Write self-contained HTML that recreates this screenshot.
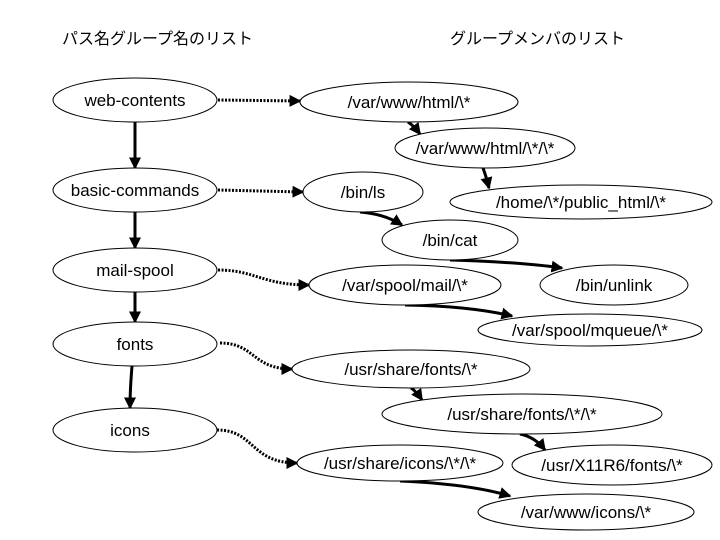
<!DOCTYPE html>
<html><head><meta charset="utf-8"><style>
html,body{margin:0;padding:0;background:#fff}
svg{display:block}
text{font-family:"Liberation Sans","Noto Sans CJK JP",sans-serif;font-size:17px;fill:#000}
text.h{font-size:16px}
.e{fill:#fff;stroke:#000;stroke-width:1}
.s{fill:none;stroke:#000;stroke-width:3}
.d{fill:none;stroke:#000;stroke-width:3;stroke-dasharray:2 1.5}
</style></head><body>
<svg width="720" height="540" viewBox="0 0 720 540">
<defs><marker id="a" markerWidth="4" markerHeight="4" refX="3.5" refY="2" orient="auto" markerUnits="strokeWidth"><path d="M0,0 L4,2 L0,4 z" fill="#000"/></marker></defs>
<text class="h" x="62" y="44">パス名グループ名のリスト</text>
<text class="h" x="450" y="44">グループメンバのリスト</text>

<g class="s" marker-end="url(#a)">
<path d="M135,122 L135,168"/>
<path d="M135,212 L135,248"/>
<path d="M135,292 L135,322"/>
<path d="M132,366 Q130,390 130,408"/>
<path d="M408,122 Q414,126 420,134"/>
<path d="M483,168 Q486,176 489,188"/>
<path d="M360,212 Q385,214 402,225"/>
<path d="M450,260 Q520,262 562,268"/>
<path d="M405,305 Q470,306 512,316"/>
<path d="M411,388 Q416,391 422,400"/>
<path d="M520,434 Q535,437 545,450"/>
<path d="M400,481 Q470,484 510,496"/>
</g>
<g class="d" marker-end="url(#a)">
<path d="M218,100 L300,101"/>
<path d="M218,190 L303,192"/>
<path d="M218,270 C255,270 262,285 309,285"/>
<path d="M220,343 C255,343 252,369 292,369"/>
<path d="M217,430 C255,430 250,463 297,463"/>
</g>

<ellipse class="e" cx="135" cy="100" rx="82" ry="22"/>
<ellipse class="e" cx="135" cy="190" rx="82" ry="22"/>
<ellipse class="e" cx="135" cy="270" rx="82" ry="22"/>
<ellipse class="e" cx="135" cy="344" rx="82" ry="22"/>
<ellipse class="e" cx="135" cy="430" rx="82" ry="22"/>
<text x="135" y="106" text-anchor="middle">web-contents</text>
<text x="135" y="196" text-anchor="middle">basic-commands</text>
<text x="135" y="276" text-anchor="middle">mail-spool</text>
<text x="135" y="350" text-anchor="middle">fonts</text>
<text x="130" y="436" text-anchor="middle">icons</text>

<ellipse class="e" cx="409" cy="102" rx="109" ry="20"/>
<ellipse class="e" cx="485" cy="148" rx="90" ry="20"/>
<ellipse class="e" cx="363" cy="192" rx="60" ry="20"/>
<ellipse class="e" cx="581" cy="202" rx="131" ry="17"/>
<ellipse class="e" cx="450" cy="240" rx="68" ry="20"/>
<ellipse class="e" cx="405" cy="285" rx="96" ry="20"/>
<ellipse class="e" cx="614" cy="285" rx="74" ry="20"/>
<ellipse class="e" cx="590" cy="330" rx="112" ry="16"/>
<ellipse class="e" cx="411" cy="369" rx="119" ry="19"/>
<ellipse class="e" cx="522" cy="414" rx="140" ry="20"/>
<ellipse class="e" cx="400" cy="463" rx="103" ry="18"/>
<ellipse class="e" cx="612" cy="465" rx="100" ry="20"/>
<ellipse class="e" cx="586" cy="512" rx="108" ry="18"/>

<text x="409" y="108" text-anchor="middle">/var/www/html/\*</text>
<text x="485" y="154" text-anchor="middle">/var/www/html/\*/\*</text>
<text x="363" y="198" text-anchor="middle">/bin/ls</text>
<text x="581" y="208" text-anchor="middle">/home/\*/public_html/\*</text>
<text x="450" y="246" text-anchor="middle">/bin/cat</text>
<text x="405" y="291" text-anchor="middle">/var/spool/mail/\*</text>
<text x="614" y="291" text-anchor="middle">/bin/unlink</text>
<text x="590" y="336" text-anchor="middle">/var/spool/mqueue/\*</text>
<text x="411" y="375" text-anchor="middle">/usr/share/fonts/\*</text>
<text x="522" y="420" text-anchor="middle">/usr/share/fonts/\*/\*</text>
<text x="400" y="469" text-anchor="middle">/usr/share/icons/\*/\*</text>
<text x="612" y="471" text-anchor="middle">/usr/X11R6/fonts/\*</text>
<text x="586" y="518" text-anchor="middle">/var/www/icons/\*</text>
</svg>
</body></html>
